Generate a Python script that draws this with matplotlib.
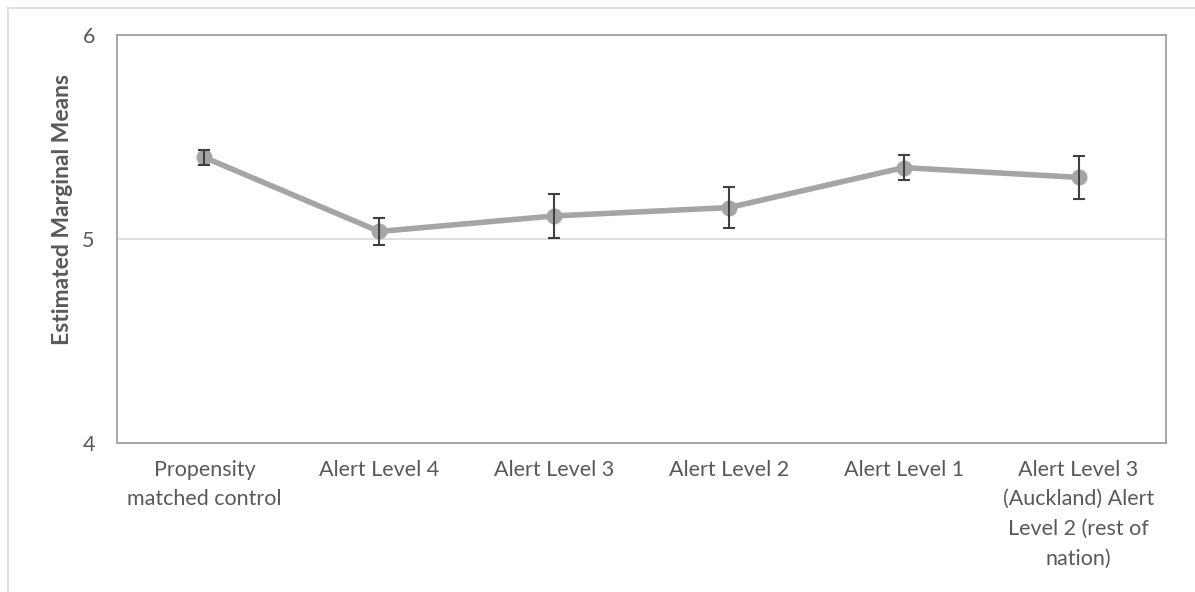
import matplotlib
matplotlib.use("Agg")
import matplotlib.pyplot as plt
from matplotlib.lines import Line2D

categories = ["Propensity\nmatched control", "Alert Level 4", "Alert Level 3",
              "Alert Level 2", "Alert Level 1",
              "Alert Level 3\n(Auckland) Alert\nLevel 2 (rest of\nnation)"]
means = [5.40, 5.037, 5.113, 5.154, 5.350, 5.302]
errors = [0.037, 0.067, 0.107, 0.100, 0.061, 0.104]
yticks = [4, 5, 6]

plt.rcParams['font.family'] = ['Lato', 'DejaVu Sans']
TXT = '#595959'

fig = plt.figure(figsize=(11.95, 5.92), dpi=100)
ax = fig.add_axes([117/1195, 1 - 443/592, (1166-117)/1195, (443-35)/592])

x = list(range(len(categories)))
ax.plot(x, means, color='#a5a5a5', linewidth=4.0, marker='o', markersize=10.5,
        solid_capstyle='round', zorder=3)
ax.errorbar(x, means, yerr=errors, fmt='none', ecolor='#404040', elinewidth=1.5,
            capsize=4.5, capthick=1.5, zorder=4)

ax.set_xlim(-0.5, len(categories) - 0.5)
ax.set_ylim(4, 6)
ax.set_yticks(yticks)
ax.set_yticklabels([str(v) for v in yticks], fontsize=15.5, color=TXT)
ax.set_xticks(x)
ax.set_xticklabels(categories, fontsize=15.5, color=TXT, linespacing=1.6, va='top')
ax.tick_params(axis='both', length=0)
ax.tick_params(axis='x', pad=12)
ax.tick_params(axis='y', pad=16)
ax.grid(axis='y', color='#d9d9d9', linewidth=1.2)
ax.set_axisbelow(True)
for s in ax.spines.values():
    s.set_color('#a0a0a0')
    s.set_linewidth(1.3)

ax.set_ylabel("Estimated Marginal Means", fontsize=16.5, fontweight='bold', color=TXT)
ax.yaxis.set_label_coords(-44/1049, (443-209)/408)

# outer chart frame (left and top edges visible)
fig.add_artist(Line2D([8/1195, 8/1195], [0, 1 - 8/592], transform=fig.transFigure,
                      color='#d9d9d9', linewidth=1.2))
fig.add_artist(Line2D([8/1195, 1], [1 - 8/592, 1 - 8/592], transform=fig.transFigure,
                      color='#d9d9d9', linewidth=1.2))

fig.savefig("out.png", dpi=100, facecolor='white')
